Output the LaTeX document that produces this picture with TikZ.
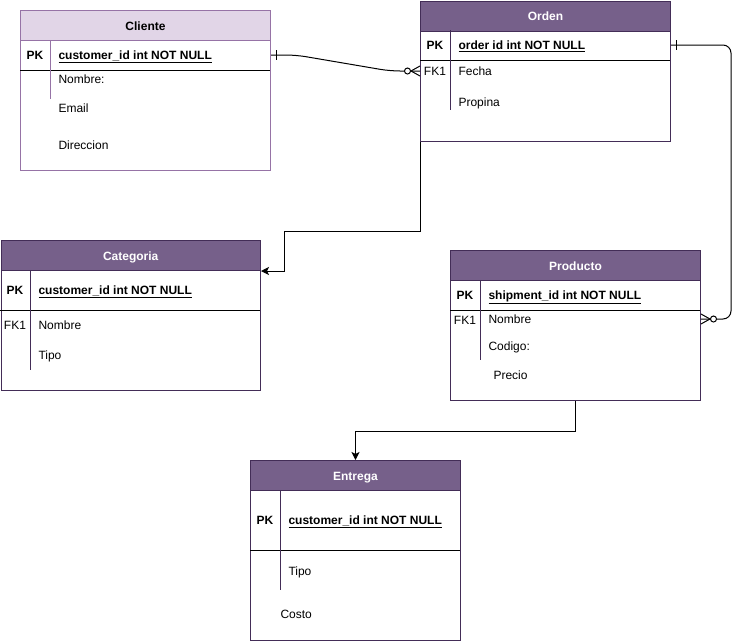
\documentclass[tikz,border=0pt]{standalone}
\usepackage{fontspec}
\setmainfont{Liberation Sans}
\usetikzlibrary{arrows.meta}
\definecolor{hdrfill}{HTML}{76608A}
\definecolor{tbldraw}{HTML}{432D57}
\definecolor{clifill}{HTML}{E1D5E7}
\definecolor{clidraw}{HTML}{9673A6}
\begin{document}
\begin{tikzpicture}[x=1pt,y=-1pt,line width=1pt,
every node/.style={font=\fontsize{12}{14}\selectfont,text height=9pt,text depth=0pt},
tbl/.style={draw=tbldraw,anchor=north west,inner sep=0pt},
hdr/.style={tbl,fill=hdrfill,text=white,minimum height=30pt,font=\fontsize{12}{14}\selectfont\bfseries},
pk/.style={inner sep=0pt,font=\fontsize{12}{14}\selectfont\bfseries},
key/.style={inner sep=0pt},
fld/.style={anchor=west,inner sep=0pt},
pkfld/.style={fld,font=\fontsize{12}{14}\selectfont\bfseries},
tip/.style={-{Stealth[length=8pt,width=8pt,inset=2pt]}}]
\useasboundingbox (0,0) rectangle (740,641);

\node[tbl,draw=clidraw,minimum width=250pt,minimum height=160pt] (cli) at (20,10) {};
\node[hdr,draw=clidraw,fill=clifill,text=black,minimum width=250pt] (clih) at (cli.north west) {Cliente};
\draw (20,70) -- (270,70);
\draw[clidraw] (50,40) -- (50,99);
\node[pk] (clik) at (35,55) {PK};
\node[pkfld] (clipk) at (58,55) {\underline{customer\_id int NOT NULL}};
\foreach \n/\y/\t in {clinom/79/Nombre:,cliema/108/Email,clidir/145/Direccion}
  \node[fld] (\n) at (58,\y) {\t};

\node[tbl,minimum width=250pt,minimum height=140pt] (ord) at (420,0.5) {};
\node[hdr,minimum width=250pt] (ordh) at (ord.north west) {Orden};
\draw (420,60) -- (670,60);
\draw[tbldraw] (450,30) -- (450,110);
\node[pk] (ordk) at (435,45) {PK};
\node[pkfld] (ordpk) at (458,45) {\underline{order id int NOT NULL}};
\node[key] (ordfk) at (435,71) {FK1};
\foreach \n/\y/\t in {ordfec/71/Fecha,ordpro/102/Propina}
  \node[fld] (\n) at (458,\y) {\t};

\node[tbl,minimum width=259.5pt,minimum height=150pt] (cat) at (0.5,240) {};
\node[hdr,minimum width=259.5pt] (cath) at (cat.north west) {Categoria};
\draw (0,310) -- (260,310);
\draw[tbldraw] (30,270) -- (30,370);
\node[pk] (catk) at (15,290) {PK};
\node[pkfld] (catpk) at (38,290) {\underline{customer\_id int NOT NULL}};
\node[key] (catfk) at (15,325) {FK1};
\foreach \n/\y/\t in {catnom/325/Nombre,cattip/355/Tipo}
  \node[fld] (\n) at (38,\y) {\t};

\node[tbl,minimum width=250pt,minimum height=150pt] (prod) at (450,250) {};
\node[hdr,minimum width=250pt] (prodh) at (prod.north west) {Producto};
\draw (450,310) -- (700,310);
\draw[tbldraw] (480,280) -- (480,360);
\node[pk] (prodk) at (465,295) {PK};
\node[pkfld] (prodpk) at (488,295) {\underline{shipment\_id int NOT NULL}};
\node[key] (prodfk) at (465,320) {FK1};
\foreach \n/\x/\y/\t in {prodnom/488/319/Nombre,prodcod/488/346/Codigo:,prodpre/493/375/Precio}
  \node[fld] (\n) at (\x,\y) {\t};

\node[tbl,minimum width=210pt,minimum height=180pt] (ent) at (250,460) {};
\node[hdr,minimum width=210pt] (enth) at (ent.north west) {Entrega};
\draw (250,550) -- (460,550);
\draw[tbldraw] (280,490) -- (280,590);
\node[pk] (entk) at (265,520) {PK};
\node[pkfld] (entpk) at (288,520) {\underline{customer\_id int NOT NULL}};
\node[fld] (enttip) at (288,571) {Tipo};
\node[fld] (entcos) at (280,614) {Costo};

\coordinate (cliout) at (cli.east |- clipk);
\coordinate (ordin) at (ord.west |- ordfec);
\coordinate (ordout) at (ord.east |- ordpk);
\coordinate (prodin) at (prod.east |- prodnom);

\draw[rounded corners=10pt] (cliout) -- ++(25,0) -- ([xshift=-30pt]ordin) -- (ordin);
\draw[rounded corners=8pt] (ordout) -| ([xshift=30pt]prodin) -- (prodin);
\draw[tip] (ord.south west) -- ++(0,90) -| ([xshift=23pt]cath.south east) -- (cath.south east);
\draw[tip] (prod.south) -- ++(0,30) -| (ent.north);

\foreach \c in {cliout,ordout}
  \draw ([xshift=5pt]\c) ++(0,-5) -- ++(0,10);
\foreach \c/\s in {ordin/-1,prodin/1}{
  \draw ([xshift=\s*9pt]\c) -- ([yshift=5pt]\c) ([xshift=\s*9pt]\c) -- ([yshift=-5pt]\c);
  \draw[fill=white] ([xshift=\s*12.5pt]\c) circle (3pt);
}
\end{tikzpicture}
\end{document}
